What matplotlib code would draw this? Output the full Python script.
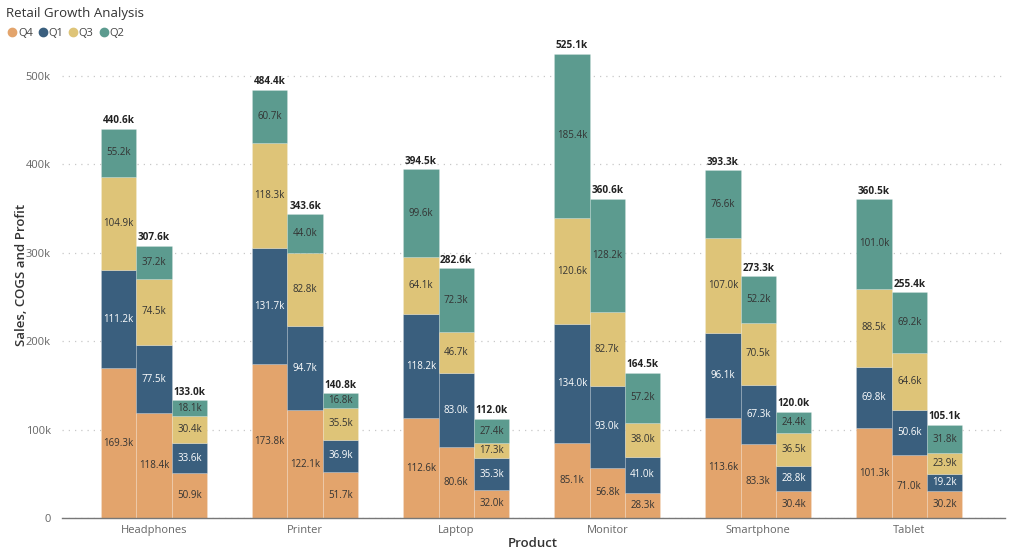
import matplotlib.pyplot as plt
from matplotlib.lines import Line2D
import numpy as np

plt.rcParams["font.family"] = ["Open Sans", "DejaVu Sans"]

products = ["Headphones", "Printer", "Laptop", "Monitor", "Smartphone", "Tablet"]
measures = ["Sales", "COGS", "Profit"]
quarters = ["Q4", "Q1", "Q3", "Q2"]

# values in thousands, per quarter: [product][measure]
q4 = [[169.3, 118.4, 50.9], [173.8, 122.1, 51.7], [112.6, 80.6, 32.0],
      [85.1, 56.8, 28.3], [113.6, 83.3, 30.4], [101.3, 71.0, 30.2]]
q1 = [[111.2, 77.5, 33.6], [131.7, 94.7, 36.9], [118.2, 83.0, 35.3],
      [134.0, 93.0, 41.0], [96.1, 67.3, 28.8], [69.8, 50.6, 19.2]]
q3 = [[104.9, 74.5, 30.4], [118.3, 82.8, 35.5], [64.1, 46.7, 17.3],
      [120.6, 82.7, 38.0], [107.0, 70.5, 36.5], [88.5, 64.6, 23.9]]
q2 = [[55.2, 37.2, 18.1], [60.7, 44.0, 16.8], [99.6, 72.3, 27.4],
      [185.4, 128.2, 57.2], [76.6, 52.2, 24.4], [101.0, 69.2, 31.8]]
totals = [[440.6, 307.6, 133.0], [484.4, 343.6, 140.8], [394.5, 282.6, 112.0],
          [525.1, 360.6, 164.5], [393.3, 273.3, 120.0], [360.5, 255.4, 105.1]]

colors = {"Q4": "#E3A46C", "Q1": "#3A5F7E", "Q3": "#DEC478", "Q2": "#5C9B8F"}
text_colors = {"Q4": "#333333", "Q1": "#FFFFFF", "Q3": "#333333", "Q2": "#333333"}
series = {"Q4": np.array(q4), "Q1": np.array(q1), "Q3": np.array(q3), "Q2": np.array(q2)}

fig = plt.figure(figsize=(10.24, 5.55), dpi=100)
ax = fig.add_axes([0.0605, 0.0667, 0.9205, 0.876])

x = np.arange(len(products))
width = 0.234
offsets = [-width, 0, width]

for m, off in enumerate(offsets):
    bottom = np.zeros(len(products))
    for q in quarters:
        vals = series[q][:, m]
        ax.bar(x + off, vals, width, bottom=bottom, color=colors[q],
               edgecolor=(1, 1, 1, 0.2), linewidth=0.6, zorder=2)
        for i, v in enumerate(vals):
            ax.text(x[i] + off, bottom[i] + v / 2, f"{v:.1f}k",
                    ha="center", va="center", fontsize=7,
                    color=text_colors[q], zorder=3)
        bottom = bottom + vals
    for i in range(len(products)):
        ax.text(x[i] + off, bottom[i] + 3, f"{totals[i][m]:.1f}k",
                ha="center", va="bottom", fontsize=7.2, fontweight="bold",
                color="#222222", zorder=3)

ax.set_xlim(-0.61, 5.63)
ax.set_ylim(0, 550)
ax.set_yticks([0, 100, 200, 300, 400, 500])
ax.set_yticklabels(["0", "100k", "200k", "300k", "400k", "500k"])
ax.set_xticks(x)
ax.set_xticklabels(products)
ax.tick_params(axis="both", length=0, labelsize=8, colors="#666666")
ax.tick_params(axis="y", pad=8)
ax.tick_params(axis="x", pad=5)
ax.grid(axis="y", linestyle=(0, (1, 4)), color="#C8C8C8", linewidth=0.9, zorder=0)
ax.set_axisbelow(True)
for side in ["top", "right", "left"]:
    ax.spines[side].set_visible(False)
ax.spines["bottom"].set_color("#777777")
ax.spines["bottom"].set_linewidth(1.0)

ax.set_ylabel("Sales, COGS and Profit", fontsize=9.5, color="#333333",
              fontweight="semibold")
ax.yaxis.set_label_coords(-0.036, 0.5)
ax.set_xlabel("Product", fontsize=9.5, color="#333333", fontweight="semibold")
ax.xaxis.set_label_coords(0.5, -0.04)

fig.text(0.006, 0.975, "Retail Growth Analysis", fontsize=9.5, color="#333333",
         ha="left", va="center")

handles = [Line2D([0], [0], marker="o", linestyle="", markersize=6,
                  markerfacecolor=colors[q], markeredgecolor=colors[q])
           for q in quarters]
fig.legend(handles, quarters, loc="center left", bbox_to_anchor=(-0.002, 0.94),
           ncol=4, frameon=False, fontsize=8, handletextpad=0.1,
           columnspacing=0.5, handlelength=0.8, labelcolor="#444444")

fig.savefig("out.png", dpi=100)
